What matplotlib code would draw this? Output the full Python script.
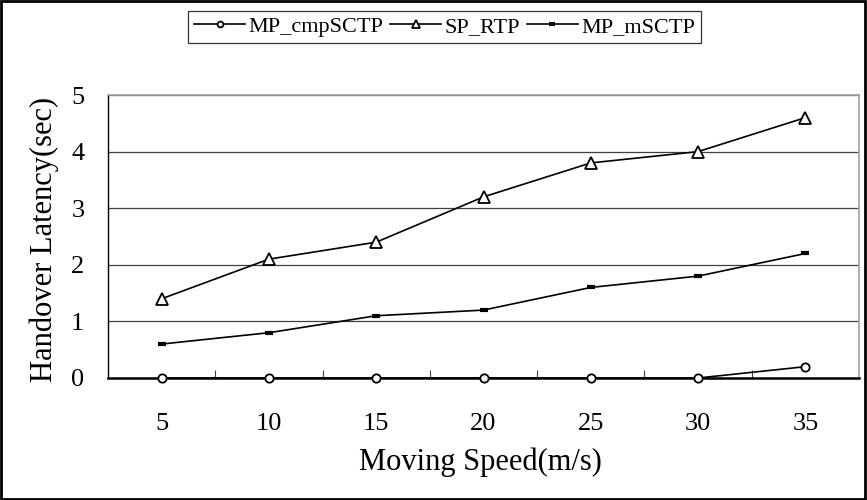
import matplotlib
matplotlib.use('Agg')
import matplotlib.pyplot as plt
from matplotlib.patches import Rectangle

# moving speed categories (m/s)
speeds = [5, 10, 15, 20, 25, 30, 35]
# handover latency (sec) per scheme
mp_cmpsctp = [0, 0, 0, 0, 0, 0, 0.2]
sp_rtp = [1.4, 2.1, 2.4, 3.2, 3.8, 4.0, 4.6]
mp_msctp = [0.6, 0.8, 1.1, 1.2, 1.6, 1.8, 2.2]

plt.rcParams['font.family'] = ['Liberation Serif', 'DejaVu Serif']

fig = plt.figure(figsize=(8.67, 5.0), dpi=100)
ax = fig.add_axes([108 / 867, 1 - 378 / 500, 751 / 867, 283 / 500])

line_kw = dict(color='black', lw=1.2, clip_on=False, zorder=5)
ax.plot(speeds, mp_cmpsctp, marker='o', ms=6, mfc='white', mec='black',
        mew=1.3, label='MP_cmpSCTP', **line_kw)
ax.plot(speeds, sp_rtp, marker='^', ms=8, mfc='white', mec='black',
        mew=1.3, label='SP_RTP', **line_kw)
ax.plot(speeds, mp_msctp, marker='_', ms=5.5, mew=3, mec='black',
        label='MP_mSCTP', **line_kw)

ax.set_xlim(2.5, 37.5)
ax.set_ylim(0, 5)
ax.set_xticks(speeds)
ax.set_xticklabels([str(s) for s in speeds])
ax.set_xticks([s + 2.5 for s in speeds[:-1]], minor=True)
ax.set_yticks(range(6))

ax.tick_params(axis='x', which='major', length=0, pad=25, labelsize=19)
ax.tick_params(axis='x', which='minor', direction='in', length=6,
               width=0.8, color='#404040')
ax.tick_params(axis='y', length=0, pad=17, labelsize=19)

ax.yaxis.grid(True, color='#404040', lw=0.9)
ax.set_axisbelow(True)

for side in ('top', 'right'):
    ax.spines[side].set_color('#a0a0a0')
    ax.spines[side].set_linewidth(1.2)
ax.spines['left'].set_linewidth(1.0)
ax.spines['bottom'].set_linewidth(1.8)

ax.set_xlabel('Moving Speed(m/s)', fontsize=22)
ax.xaxis.set_label_coords((480 - 108) / 751, (378 - 462) / 283)
ax.xaxis.label.set_va('center')
ax.set_ylabel('Handover Latency(sec)', fontsize=22)
ax.yaxis.set_label_coords((44 - 108) / 751, 0.49)
ax.yaxis.label.set_va('center')

leg = fig.legend(loc='center', bbox_to_anchor=((197 + 692) / 2 / 867, 1 - 27 / 500),
                 ncol=3, fontsize=16, frameon=True, fancybox=False,
                 handlelength=2.3, handletextpad=0.15, columnspacing=0.3,
                 borderpad=0.25, borderaxespad=0, markerscale=0.7)
leg.get_frame().set_edgecolor('black')
leg.get_frame().set_linewidth(0.9)

# outer border of the whole figure
fig.patches.append(Rectangle((0.001, 0.002), 0.997, 0.996, transform=fig.transFigure,
                             fill=False, edgecolor='black', lw=2))

fig.savefig('out.png', dpi=100)
